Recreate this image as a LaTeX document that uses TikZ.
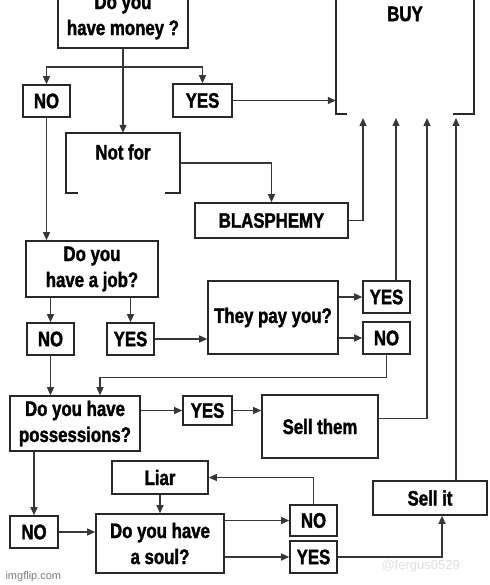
\documentclass[tikz,border=0pt]{standalone}
\usepackage{fontspec}
\setmainfont{Liberation Sans}[FakeStretch=0.8, BoldFeatures={FakeBold=1.6}]
\newfontfamily\wmfont{Liberation Sans}
\usetikzlibrary{arrows.meta, positioning}
\definecolor{BD}{RGB}{40,40,40}
\definecolor{LN}{RGB}{55,55,55}
\definecolor{WM}{RGB}{125,125,125}

\begin{document}
\begin{tikzpicture}[x=1pt, y=-1pt,
  box/.style={draw=BD, line width=1.6pt, fill=white, inner sep=0pt,
              align=center, font=\fontsize{21}{26}\selectfont\bfseries},
  openbox/.style={inner sep=0pt, minimum width=#1},
  lbl/.style={font=\fontsize{21}{26}\selectfont\bfseries},
  ln/.style={draw=LN, line width=1.3pt},
  arr/.style={ln, -{Triangle[length=8pt,width=7pt]}},
  wm/.style={font=\wmfont\fontsize{11}{13}\selectfont, text=WM, anchor=west}
]
\clip (0,0) rectangle (489,585);
\fill[white] (0,0) rectangle (489,585);

% top: money question and BUY
\node[box, minimum width=130pt, minimum height=62pt] (money) at (123,17) {Do you\\have money ?};
\node[openbox=138pt, minimum height=134pt] (buy) at (405,47) {};
\node[lbl] (buylbl) at (405,14) {BUY};
\draw[draw=BD, line width=1.6pt] ([xshift=11pt]buy.south west) -- (buy.south west) -- (buy.north west)
  -- (buy.north east) -- (buy.south east) -- ([xshift=-21pt]buy.south east);
\coordinate (in1) at (363,118);
\coordinate (in2) at (396,118);
\coordinate (in3) at (427,118);
\coordinate (in4) at (456,118);

\node[box, minimum width=47pt, minimum height=32pt] (noA) at (46.5,101) {NO};
\node[box, minimum width=59pt, minimum height=33pt] (yesA) at (202.5,100.5) {YES};
\node[openbox=114pt, minimum height=60pt] (notfor) at (123,163) {};
\node[lbl] (notforlbl) at (123,152) {Not for};
\draw[draw=BD, line width=1.6pt] ([xshift=12pt]notfor.south west) -- (notfor.south west) -- (notfor.north west)
  -- (notfor.north east) -- (notfor.south east) -- ([xshift=-15pt]notfor.south east);
\node[box, minimum width=153pt, minimum height=35pt] (blas) at (271.5,220.5) {BLASPHEMY};

% job branch
\node[box, minimum width=132pt, minimum height=56pt] (job) at (92,269) {Do you\\have a job?};
\node[box, minimum width=47pt, minimum height=32pt] (noB) at (50.5,339) {NO};
\node[box, minimum width=47pt, minimum height=32pt] (yesB) at (130.5,339) {YES};
\node[box, minimum width=130pt, minimum height=73pt] (pay) at (273,317.5) {They pay you?};
\node[box, minimum width=47pt, minimum height=32pt] (yesC) at (386.5,297) {YES};
\node[box, minimum width=47pt, minimum height=32pt] (noC) at (386.5,338) {NO};

% possessions branch
\node[box, minimum width=130pt, minimum height=55pt] (poss) at (75,423.5) {Do you have\\possessions?};
\node[box, minimum width=49pt, minimum height=29pt] (yesD) at (207.5,410.5) {YES};
\node[box, minimum width=116pt, minimum height=63pt] (sellthem) at (320,426.5) {Sell them};
\node[box, minimum width=48pt, minimum height=32pt] (noD) at (34,532) {NO};
\node[box, minimum width=96pt, minimum height=33pt] (liar) at (160,477.5) {Liar};
\node[box, minimum width=128pt, minimum height=59pt] (soul) at (160,543.5) {Do you have\\a soul?};
\node[box, minimum width=47pt, minimum height=31pt] (noE) at (313.5,520.5) {NO};
\node[box, minimum width=47pt, minimum height=32pt] (yesE) at (313.5,557) {YES};
\node[box, minimum width=114pt, minimum height=34pt] (sellit) at (430,498) {Sell it};

% connectors
\coordinate (split) at (123,67);
\draw[ln] (money.south) -- (split);
\draw[arr] (split) -| (noA.north);
\draw[arr] (split) -| (yesA.north);
\draw[arr] (split) -- (notfor.north);
\draw[arr] (yesA.east) -- (buy.west |- yesA.east);
\draw[arr] (notfor.east) -| (blas.north);
\draw[arr] (blas.east) -| (in1);
\draw[arr] (noA.south) -- (noA.south |- job.north);
\draw[arr] (noB.north |- job.south) -- (noB.north);
\draw[arr] (yesB.north |- job.south) -- (yesB.north);
\draw[arr] (yesB.east) -- (pay.west |- yesB.east);
\draw[arr] (pay.east |- yesC.west) -- (yesC.west);
\draw[arr] (pay.east |- noC.west) -- (noC.west);
\draw[arr] ([xshift=9.5pt]yesC.north) -- (in2);
\draw[arr] (noC.south) -- ++(0,23) -| ([xshift=25pt]poss.north);
\draw[arr] (noB.south) -- (noB.south |- poss.north);
\draw[arr] (poss.east |- yesD.west) -- (yesD.west);
\draw[arr] (yesD.east) -- (sellthem.west |- yesD.east);
\draw[arr] ([yshift=8pt]sellthem.east) -| (in3);
\draw[arr] (noD.north |- poss.south) -- (noD.north);
\draw[arr] (noD.east) -- (soul.west |- noD.east);
\draw[arr] (liar.south) -- (soul.north);
\draw[arr] (soul.east |- noE.west) -- (noE.west);
\draw[arr] (soul.east |- yesE.west) -- (yesE.west);
\draw[arr] (noE.north) |- (liar.east);
\draw[arr] (yesE.east) -| ([xshift=12pt]sellit.south);
\draw[arr] ([xshift=26pt]sellit.north) -- (in4);

% watermarks
\node[wm] (imgflip) at (2,577) {imgflip.com};
\node[wm, text=WM!25, font=\wmfont\fontsize{13}{15}\selectfont] (tiktok) at (378,566) {@fergus0529};
\end{tikzpicture}
\end{document}
